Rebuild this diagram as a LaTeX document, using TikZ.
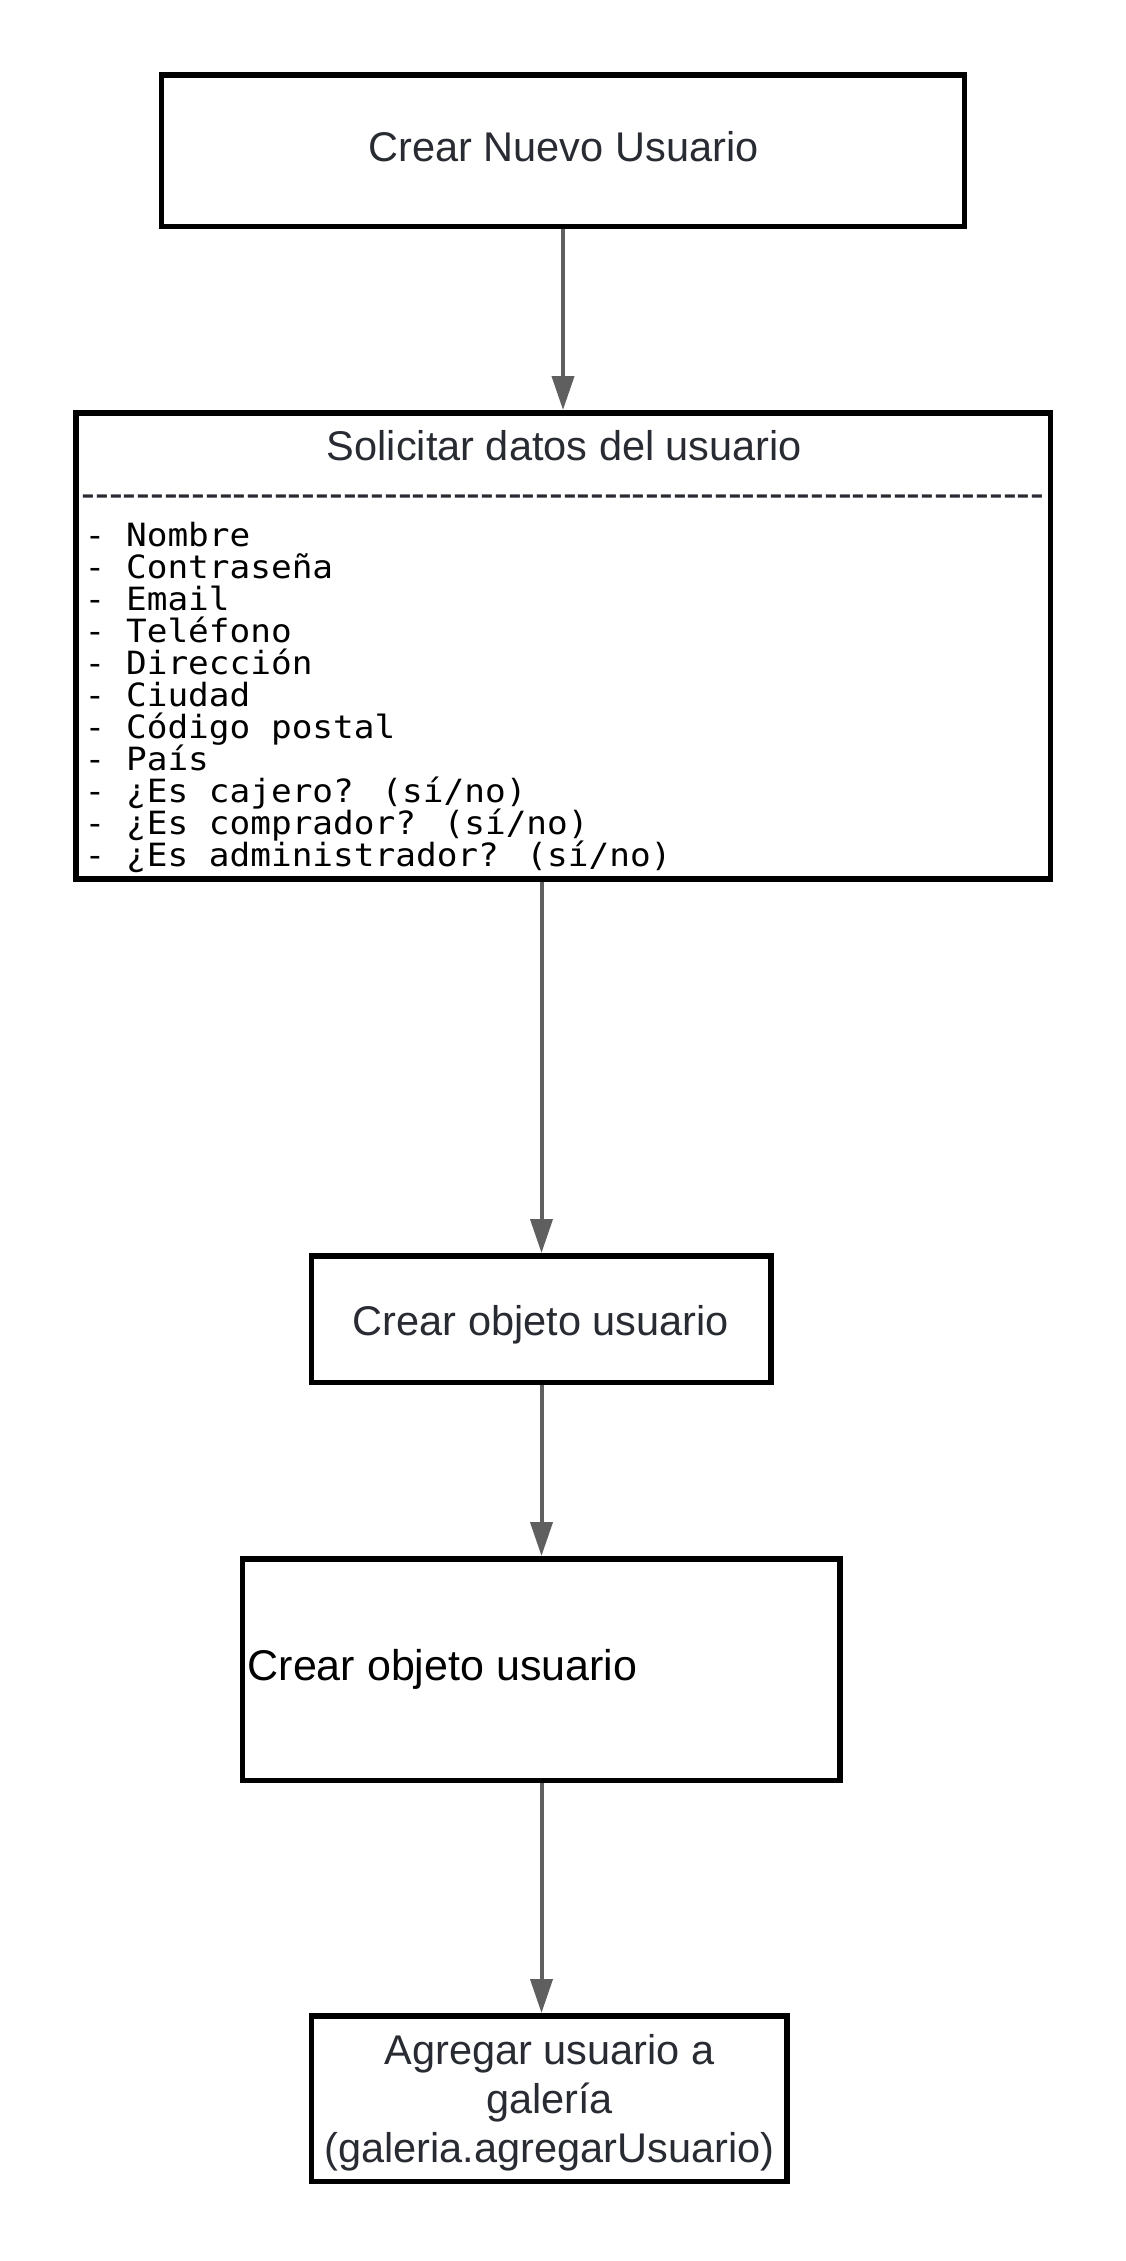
\documentclass[tikz,border=0pt]{standalone}
\usepackage{fontspec}
\setmainfont{Liberation Sans}
\newfontfamily\monofont[FakeStretch=1.075]{DejaVu Sans Mono}
\usetikzlibrary{arrows.meta}
\definecolor{txt}{RGB}{40,43,50}
\definecolor{arrc}{RGB}{95,95,95}
\newcommand\hyrow[1]{\ifnum#1>0 -\kern0pt\expandafter\hyrow\expandafter{\the\numexpr#1-1\relax}\fi}
\begin{document}
\begin{tikzpicture}[x=1pt,y=-1pt,
  box/.style={draw=black,line width=5.5pt,inner sep=0pt,rectangle},
  lbl/.style={text=txt,font=\fontsize{41.5}{49.5}\selectfont,inner sep=0pt},
  mono/.style={text=black,font=\monofont\fontsize{32}{32}\selectfont,inner sep=0pt,anchor=base west},
  arr/.style={draw=arrc,line width=4pt,-{Triangle[width=22pt,length=34pt]}}]
\useasboundingbox[fill=white] (0,0) rectangle (1125,2261);
% box 1
\node[box,minimum width=803.3pt,minimum height=151.5pt] (b1) at (563,150.8) {};
\node[lbl,anchor=base] (t1) at (563.5,162) {Crear Nuevo Usuario};
% box 2
\node[box,minimum width=974.5pt,minimum height=466pt] (b2) at (563,645.75) {};
\node[lbl,anchor=base] (t2) at (564.5,460) {Solicitar datos del usuario};
\node[lbl,font=\fontsize{41.3}{49.5}\selectfont,anchor=base west] (dash) at (81.5,507.5) {\hyrow{70}};
\foreach \itm [count=\i from 0] in {- Nombre,- Contraseña,- Email,- Teléfono,- Dirección,- Ciudad,- Código postal,- País,- ¿Es cajero? (sí/no),- ¿Es comprador? (sí/no),- ¿Es administrador? (sí/no)}
  \node[mono] (m\i) at (84.5,{546+32*\i}) {\itm};
% box 3
\node[box,minimum width=459.5pt,minimum height=126.5pt] (b3) at (541,1319) {};
\node[lbl,anchor=base] (t3) at (541,1335) {Crear objeto usuario};
% box 4
\node[box,minimum width=597.5pt,minimum height=221.5pt] (b4) at (541,1669.5) {};
\node[lbl,text=black,font=\fontsize{43}{50}\selectfont,anchor=base west] (t4) at (247.5,1680) {Crear objeto usuario};
% box 5
\node[box,minimum width=475.5pt,minimum height=165.5pt] (b5) at (549,2098.5) {};
\node[lbl,anchor=base] (t5a) at (549.5,2064) {Agregar usuario a};
\node[lbl,anchor=base] (t5b) at (549.5,2113) {galería};
\node[lbl,anchor=base] (t5c) at (549.5,2162) {(galeria.agregarUsuario)};
% connectors
\coordinate (ax) at (541.5,0);
\draw[arr] (b1.south) -- (b2.north);
\draw[arr] (b2.south -| ax) -- (b3.north -| ax);
\draw[arr] (b3.south -| ax) -- (b4.north -| ax);
\draw[arr] (b4.south -| ax) -- (b5.north -| ax);
\end{tikzpicture}
\end{document}
